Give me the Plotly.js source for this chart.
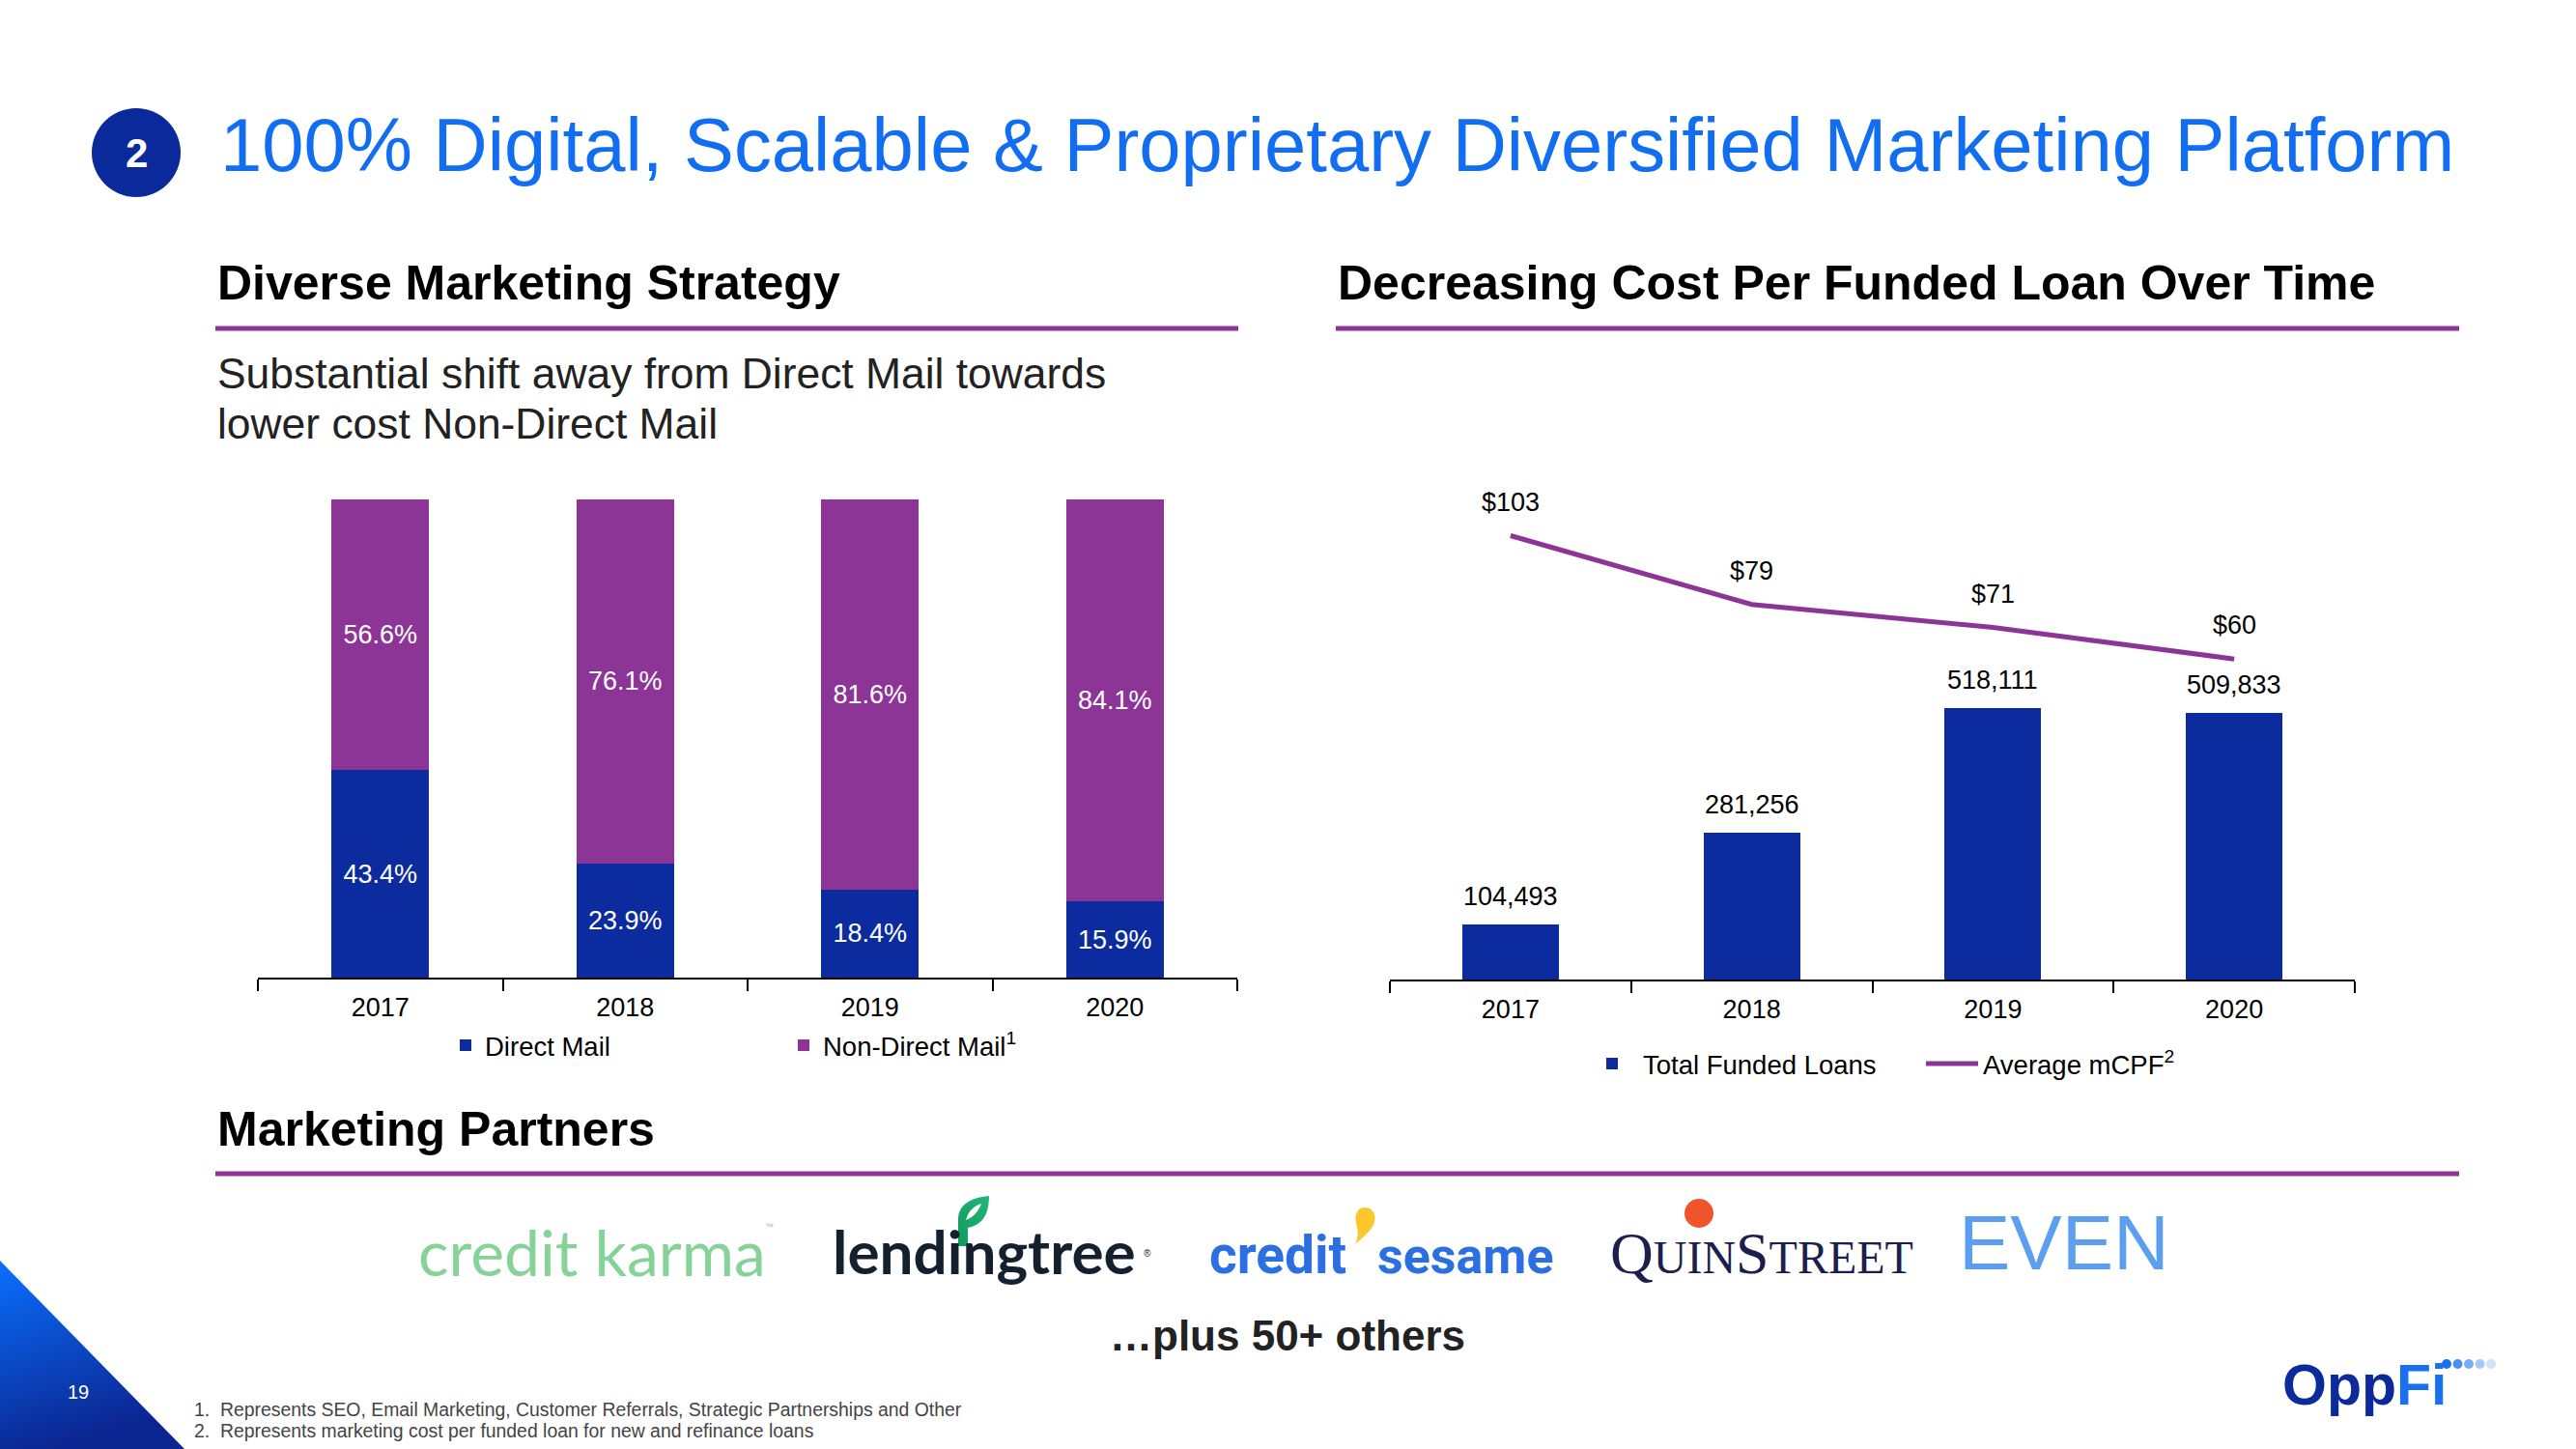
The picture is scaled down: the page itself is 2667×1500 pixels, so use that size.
<!DOCTYPE html>
<html>
<head>
<meta charset="utf-8">
<script src="https://cdn.plot.ly/plotly-3.0.1.min.js"></script>
<style>html,body{margin:0;padding:0;background:#fff;}#chart{width:2667px;height:1500px;}</style>
</head>
<body>
<div id="chart"></div>
<script>
// ---------- data ----------
const years = ['2017', '2018', '2019', '2020'];
const directMail = [43.4, 23.9, 18.4, 15.9];
const nonDirectMail = [56.6, 76.1, 81.6, 84.1];
const fundedLoans = [104493, 281256, 518111, 509833];
const avgMCPF = [103, 79, 71, 60];
const seriesNames = ['Direct Mail', 'Non-Direct Mail<sup>1</sup>', 'Total Funded Loans', 'Average mCPF<sup>2</sup>'];
const partners = ['credit karma', 'lendingtree', 'credit', 'sesame', 'QuinStreet', 'EVEN'];

// ---------- helpers (page pixel -> paper) ----------
const W = 2667, H = 1500;
const px = x => x / W;
const py = y => 1 - y / H;
const FONT = 'Liberation Sans, Arial, Helvetica, sans-serif';
const BLUE = '#0b2b9e';
const PURPLE = '#8c3596';
const TITLE_BLUE = '#116df2';

function txt(x, y, text, size, opts) {
  opts = opts || {};
  return Object.assign({
    xref: 'paper', yref: 'paper', x: px(x), y: py(y), text: text, showarrow: false,
    xanchor: 'left', yanchor: 'middle',
    font: {family: FONT, size: size, color: opts.color || '#000', weight: opts.weight || 'normal'}
  }, opts.extra || {});
}

// ---------- traces ----------
const traces = [
  {
    type: 'bar', x: years, y: directMail, name: seriesNames[0], xaxis: 'x', yaxis: 'y', legend: 'legend',
    marker: {color: BLUE}, text: directMail.map(v => v.toFixed(1) + '%'),
    textposition: 'inside', insidetextanchor: 'middle', textangle: 0, constraintext: 'none',
    insidetextfont: {family: FONT, size: 27, color: '#fff'}, hoverinfo: 'skip'
  },
  {
    type: 'bar', x: years, y: nonDirectMail, name: seriesNames[1], xaxis: 'x', yaxis: 'y', legend: 'legend',
    marker: {color: PURPLE}, text: nonDirectMail.map(v => v.toFixed(1) + '%'),
    textposition: 'inside', insidetextanchor: 'middle', textangle: 0, constraintext: 'none',
    insidetextfont: {family: FONT, size: 27, color: '#fff'}, hoverinfo: 'skip'
  },
  {
    type: 'bar', x: years, y: fundedLoans, name: seriesNames[2], xaxis: 'x2', yaxis: 'y2', legend: 'legend2',
    marker: {color: BLUE}, hoverinfo: 'skip'
  },
  {
    type: 'scatter', mode: 'lines', x: years, y: avgMCPF, name: seriesNames[3], xaxis: 'x2', yaxis: 'y3', legend: 'legend2',
    line: {color: PURPLE, width: 5}, hoverinfo: 'skip'
  }
];

// ---------- annotations ----------
const annotations = [];
annotations.push(txt(226, 150, '100% Digital, Scalable &amp; Proprietary Diversified Marketing Platform', 77.8, {color: TITLE_BLUE}));
annotations.push(txt(141, 159, '2', 42, {color: '#fff', weight: 'bold', extra: {xanchor: 'center'}}));
annotations.push(txt(223, 293, 'Diverse Marketing Strategy', 50, {weight: 'bold'}));
annotations.push(txt(1383, 293, 'Decreasing Cost Per Funded Loan Over Time', 50, {weight: 'bold'}));
annotations.push(txt(223, 386, 'Substantial shift away from Direct Mail towards', 44.4, {color: '#222'}));
annotations.push(txt(223, 439, 'lower cost Non-Direct Mail', 44.4, {color: '#222'}));
annotations.push(txt(223, 1169, 'Marketing Partners', 50, {weight: 'bold'}));
annotations.push(txt(1333, 1382, '…plus 50+ others', 44, {weight: 'bold', color: '#222', extra: {xanchor: 'center'}}));
annotations.push(txt(199, 1459, '1.  Represents SEO, Email Marketing, Customer Referrals, Strategic Partnerships and Other', 19.4, {color: '#444'}));
annotations.push(txt(199, 1481, '2.  Represents marketing cost per funded loan for new and refinance loans', 19.4, {color: '#444'}));
annotations.push(txt(81, 1441, '19', 20, {color: '#fff', extra: {xanchor: 'center'}}));

// chart value labels (x given as category index)
fundedLoans.forEach((v, i) => annotations.push({
  xref: 'x2', yref: 'y2', x: i, y: v, text: v.toLocaleString('en-US'), showarrow: false,
  yanchor: 'middle', yshift: 29, font: {family: FONT, size: 27, color: '#000'}
}));
avgMCPF.forEach((v, i) => annotations.push({
  xref: 'x2', yref: 'y3', x: i, y: v, text: '$' + v, showarrow: false,
  yanchor: 'middle', yshift: 35, font: {family: FONT, size: 27, color: '#000'}
}));

// partner "logos" as text
annotations.push(txt(613, 1295, partners[0], 66, {extra: {xanchor: 'center', font: {family: 'Lato, Open Sans, sans-serif', size: 66, color: '#86d39a'}}}));
annotations.push(txt(790, 1270, '™', 9, {color: '#9bbfa5'}));
annotations.push(txt(1019, 1295, partners[1], 62, {extra: {xanchor: 'center', font: {family: 'Lato, Open Sans, sans-serif', size: 62, color: '#15202e', weight: 'bold'}}}));
annotations.push(txt(1182, 1297, '®', 10, {color: '#15202e'}));
annotations.push(txt(1396, 1299, partners[2], 55, {extra: {xanchor: 'right', font: {family: 'Roboto, Open Sans, sans-serif', size: 55, color: '#2b6fe0', weight: 'bold'}}}));
annotations.push(txt(1424, 1300, partners[3], 52, {extra: {xanchor: 'left', font: {family: 'Roboto, Open Sans, sans-serif', size: 52, color: '#2b6fe0', weight: 'bold'}}}));
annotations.push(txt(1824, 1297, 'Q<span style="font-size:48px">UIN</span>S<span style="font-size:48px">TREET</span>', 62,
  {extra: {xanchor: 'center', font: {family: 'Liberation Serif, Times New Roman, serif', size: 62, color: '#1c1f4d'}}}));
annotations.push(txt(2137, 1286, partners[5], 80, {extra: {xanchor: 'center', font: {family: 'Liberation Sans, Arial, sans-serif', size: 80, color: '#5c9ff0'}}}));

// OppFi logo
annotations.push(txt(2448, 1434, 'Opp<span style="color:#1a70f2">Fi</span>', 59, {color: '#0b2a9c', weight: 'bold', extra: {xanchor: 'center'}}));

// ---------- shapes ----------
const shapes = [
  {type: 'circle', xref: 'paper', yref: 'paper', x0: px(95), x1: px(187), y0: py(204), y1: py(112), fillcolor: '#0a2a9c', line: {width: 0}, layer: 'below'},
  {type: 'line', xref: 'paper', yref: 'paper', x0: px(223), x1: px(1282), y0: py(340), y1: py(340), line: {color: PURPLE, width: 5}},
  {type: 'line', xref: 'paper', yref: 'paper', x0: px(1383), x1: px(2546), y0: py(340), y1: py(340), line: {color: PURPLE, width: 5}},
  {type: 'line', xref: 'paper', yref: 'paper', x0: px(223), x1: px(2546), y0: py(1215), y1: py(1215), line: {color: PURPLE, width: 5}},
  // quinstreet dot
  {type: 'circle', xref: 'paper', yref: 'paper', x0: px(1744), x1: px(1774), y0: py(1271), y1: py(1241), fillcolor: '#f0542b', line: {width: 0}}
];
// OppFi dots
['#1a6ff0', '#4a8ff3', '#7aabf6', '#a6c6f8', '#d0e0fb'].forEach((c, i) => {
  const cx = 2533 + i * 11.5;
  shapes.push({type: 'circle', xref: 'paper', yref: 'paper', x0: px(cx - 5), x1: px(cx + 5), y0: py(1417), y1: py(1407), fillcolor: c, line: {width: 0}});
});

// ---------- decorative images (gradient triangle, leaf, drop) ----------
function svgURI(svg) { return 'data:image/svg+xml;utf8,' + encodeURIComponent(svg); }
const triSVG = "<svg xmlns='http://www.w3.org/2000/svg' width='191' height='195' viewBox='0 0 191 195' preserveAspectRatio='none'>" +
  "<defs><linearGradient id='g' x1='0' y1='0' x2='0.3' y2='1'><stop offset='0' stop-color='#0a70ff'/><stop offset='1' stop-color='#0b2590'/></linearGradient></defs>" +
  "<polygon points='0,0 191,195 0,195' fill='url(#g)'/></svg>";
const leafSVG = "<svg xmlns='http://www.w3.org/2000/svg' width='40' height='54' viewBox='0 0 40 54'>" +
  "<defs><linearGradient id='l' x1='0' y1='1' x2='1' y2='0'><stop offset='0' stop-color='#0f9a5e'/><stop offset='1' stop-color='#22b877'/></linearGradient></defs>" +
  "<path d='M6,54 L6,26 C6,12 18,4 38,2 C38,20 32,32 16,35 L16,54 Z M14,27 C22,24 27,18 30,10 C24,12 17,16 14,27 Z' fill='url(#l)' fill-rule='evenodd'/></svg>";
const dropSVG = "<svg xmlns='http://www.w3.org/2000/svg' width='27' height='38' viewBox='0 0 27 38'>" +
  "<path d='M15,0 C23,0 27,7 25,15 C23,23 14,30 5,38 C9,29 8,24 6,16 C4,7 8,0 15,0 Z' fill='#fcc62d'/></svg>";
const images = [
  {source: svgURI(triSVG), xref: 'paper', yref: 'paper', x: px(0), y: py(1305), sizex: 191 / W, sizey: 195 / H, xanchor: 'left', yanchor: 'top', sizing: 'stretch', layer: 'below'},
  {source: svgURI(leafSVG), xref: 'paper', yref: 'paper', x: px(986), y: py(1236), sizex: 40 / W, sizey: 54 / H, xanchor: 'left', yanchor: 'top', sizing: 'stretch', layer: 'below'},
  {source: svgURI(dropSVG), xref: 'paper', yref: 'paper', x: px(1398), y: py(1250), sizex: 27 / W, sizey: 38 / H, xanchor: 'left', yanchor: 'top', sizing: 'stretch', layer: 'above'}
];

// ---------- axes ----------
const xCommon = {
  type: 'category', categoryorder: 'array', categoryarray: years, range: [-0.5, years.length - 0.5], autorange: false,
  showline: true, linecolor: '#000', linewidth: 2, ticks: 'outside', tickson: 'boundaries',
  ticklen: 12, tickwidth: 2, tickcolor: '#000', showgrid: false, zeroline: false, fixedrange: true,
  tickfont: {family: FONT, size: 27, color: '#000'}, ticklabelstandoff: 6
};
const yHidden = {visible: false, showgrid: false, zeroline: false, fixedrange: true, autorange: false};

const layout = {
  width: W, height: H, margin: {l: 0, r: 0, t: 0, b: 0}, paper_bgcolor: '#fff', plot_bgcolor: 'rgba(0,0,0,0)',
  font: {family: FONT, color: '#000'}, barmode: 'stack', bargap: 0.6, hovermode: false,
  xaxis: Object.assign({}, xCommon, {domain: [px(267), px(1281)], anchor: 'y'}),
  yaxis: Object.assign({}, yHidden, {domain: [py(1012), py(517)], range: [0, 100], anchor: 'x'}),
  xaxis2: Object.assign({}, xCommon, {domain: [px(1439), px(2438)], anchor: 'y2'}),
  yaxis2: Object.assign({}, yHidden, {domain: [py(1014), py(510)], range: [0, 930000], anchor: 'x2'}),
  yaxis3: Object.assign({}, yHidden, {overlaying: 'y2', range: [-51.8, 118], anchor: 'x2'}),
  legend: {orientation: 'h', x: px(462), y: py(1082), xanchor: 'left', yanchor: 'middle', traceorder: 'normal',
    font: {family: FONT, size: 27.5, color: '#000'}, entrywidth: 305, entrywidthmode: 'pixels', bgcolor: 'rgba(0,0,0,0)'},
  legend2: {orientation: 'h', x: px(1637), y: py(1101), xanchor: 'left', yanchor: 'middle', traceorder: 'normal', itemwidth: 54,
    font: {family: FONT, size: 27.5, color: '#000'}, entrywidth: 283, entrywidthmode: 'pixels', bgcolor: 'rgba(0,0,0,0)'},
  annotations: annotations, shapes: shapes, images: images
};

Plotly.newPlot('chart', traces, layout, {staticPlot: true, displayModeBar: false});
</script>
</body>
</html>
